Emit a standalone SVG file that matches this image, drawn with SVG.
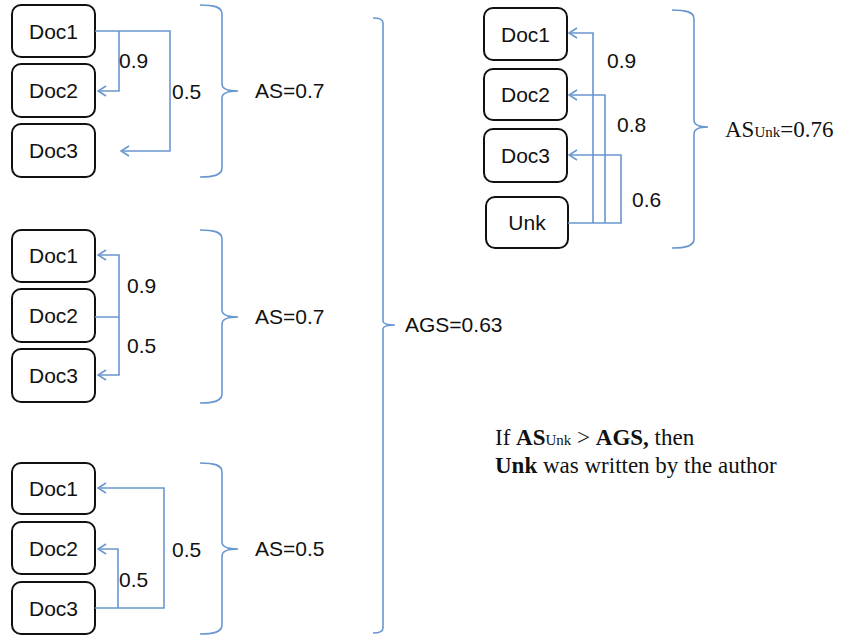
<svg xmlns="http://www.w3.org/2000/svg" width="843" height="639" viewBox="0 0 843 639">
<defs>
<marker id="arr" viewBox="0 0 10 12" refX="9" refY="6" markerWidth="10" markerHeight="12" markerUnits="userSpaceOnUse" orient="auto">
<path d="M1,1 L9,6 L1,11" fill="none" stroke="#6a97cf" stroke-width="1.6"/>
</marker>
<style>
.box{fill:#fff;stroke:#111;stroke-width:2}
.bt{font-family:"Liberation Sans",Arial,sans-serif;font-size:21px;fill:#111;text-anchor:middle}
.lbl{font-family:"Liberation Sans",Arial,sans-serif;font-size:21px;fill:#111}
.ser{font-family:"Liberation Serif","Times New Roman",serif;font-size:23px;fill:#111}
.con{fill:none;stroke:#6a97cf;stroke-width:1.6}
.brace{fill:none;stroke:#6a97cf;stroke-width:1.6}
</style>
</defs>
<rect width="843" height="639" fill="#fff"/>

<g id="g1-doc1"><rect class="box" x="12" y="5" width="83" height="52" rx="9"/><text class="bt" x="53.5" y="38.5">Doc1</text></g>
<g id="g1-doc2"><rect class="box" x="12" y="64" width="83" height="53" rx="9"/><text class="bt" x="53.5" y="98">Doc2</text></g>
<g id="g1-doc3"><rect class="box" x="12" y="124" width="83" height="53" rx="9"/><text class="bt" x="53.5" y="158">Doc3</text></g>

<g id="g2-doc1"><rect class="box" x="12" y="230" width="83" height="52" rx="9"/><text class="bt" x="53.5" y="263">Doc1</text></g>
<g id="g2-doc2"><rect class="box" x="12" y="289" width="83" height="53" rx="9"/><text class="bt" x="53.5" y="323">Doc2</text></g>
<g id="g2-doc3"><rect class="box" x="12" y="349" width="83" height="53" rx="9"/><text class="bt" x="53.5" y="383">Doc3</text></g>

<g id="g3-doc1"><rect class="box" x="12" y="463" width="83" height="51" rx="9"/><text class="bt" x="53.5" y="496">Doc1</text></g>
<g id="g3-doc2"><rect class="box" x="12" y="522" width="83" height="52" rx="9"/><text class="bt" x="53.5" y="556">Doc2</text></g>
<g id="g3-doc3"><rect class="box" x="12" y="582" width="83" height="52" rx="9"/><text class="bt" x="53.5" y="616">Doc3</text></g>

<g id="r-doc1"><rect class="box" x="484" y="8" width="83" height="52" rx="9"/><text class="bt" x="525.5" y="41.5">Doc1</text></g>
<g id="r-doc2"><rect class="box" x="484" y="69" width="83" height="51" rx="9"/><text class="bt" x="525.5" y="102">Doc2</text></g>
<g id="r-doc3"><rect class="box" x="484" y="129" width="83" height="53" rx="9"/><text class="bt" x="525.5" y="163">Doc3</text></g>
<g id="r-unk"><rect class="box" x="486" y="197" width="82" height="51" rx="9"/><text class="bt" x="527" y="230">Unk</text></g>

<g id="connectors">
<path class="con" d="M95,31 H170 V151 H121" marker-end="url(#arr)"/>
<path class="con" d="M119,31 V91 H98" marker-end="url(#arr)"/>
<path class="con" d="M95,317 H119 V255 H98" marker-end="url(#arr)"/>
<path class="con" d="M119,317 V375 H98" marker-end="url(#arr)"/>
<path class="con" d="M95,608 H164 V488 H98" marker-end="url(#arr)"/>
<path class="con" d="M118,608 V549 H98" marker-end="url(#arr)"/>
<path class="con" d="M568,223 H621 V155 H569" marker-end="url(#arr)"/>
<path class="con" d="M605,223 V95 H569" marker-end="url(#arr)"/>
<path class="con" d="M593,223 V33 H569" marker-end="url(#arr)"/>
</g>

<g id="labels">
<text class="lbl" x="119" y="68">0.9</text>
<text class="lbl" x="172" y="99">0.5</text>
<text class="lbl" x="127" y="293">0.9</text>
<text class="lbl" x="127" y="353">0.5</text>
<text class="lbl" x="172" y="557">0.5</text>
<text class="lbl" x="119" y="587">0.5</text>
<text class="lbl" x="607" y="68">0.9</text>
<text class="lbl" x="617" y="132">0.8</text>
<text class="lbl" x="632" y="207">0.6</text>
</g>

<g id="brace1">
<path class="brace" d="M200,5 C214,5 222,7 222,14 V84 C222,89 228,91 238,91 C228,91 222,93 222,98 V168 C222,175 214,177 200,177"/>
<text class="lbl" x="255" y="98">AS=0.7</text>
</g>
<g id="brace2">
<path class="brace" d="M200,230 C214,230 222,232 222,239 V310 C222,315 228,317 238,317 C228,317 222,319 222,324 V394 C222,401 214,403 200,403"/>
<text class="lbl" x="255" y="324">AS=0.7</text>
</g>
<g id="brace3">
<path class="brace" d="M200,463 C214,463 222,465 222,472 V542 C222,547 228,549 238,549 C228,549 222,551 222,556 V625 C222,632 214,634 200,634"/>
<text class="lbl" x="255" y="556">AS=0.5</text>
</g>
<g id="brace-unk">
<path class="brace" d="M672,10 C686,10 694,12 694,19 V120 C694,125 700,127 708,127 C700,127 694,129 694,134 V239 C694,246 686,248 672,248"/>
<text class="ser" x="725" y="137">AS<tspan font-size="15">Unk</tspan>=0.76</text>
</g>
<g id="brace-ags">
<path class="brace" d="M373,18 C379,18 383,19 383,23 V321 C383,324 387,325 395,325 C387,325 383,326 383,329 V628 C383,632 379,633 373,633"/>
<text class="lbl" x="405" y="332">AGS=0.63</text>
</g>

<g id="note">
<text class="ser" x="495" y="445">If <tspan font-weight="bold">AS</tspan><tspan font-size="15">Unk</tspan> &gt; <tspan font-weight="bold">AGS,</tspan> then</text>
<text class="ser" x="495" y="473"><tspan font-weight="bold">Unk</tspan> was written by  the author</text>
</g>
</svg>
